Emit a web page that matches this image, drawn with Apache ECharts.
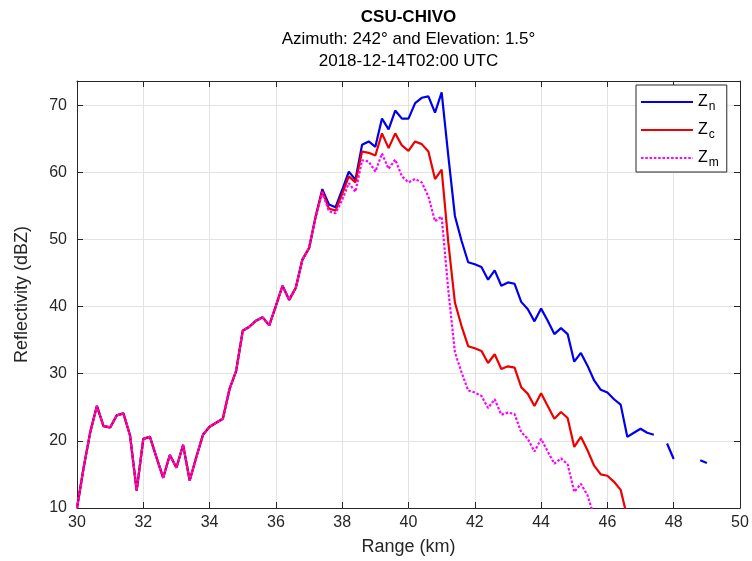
<!DOCTYPE html>
<html><head><meta charset="utf-8">
<script src="https://cdn.jsdelivr.net/npm/echarts@6/dist/echarts.min.js"></script>
<style>html,body{margin:0;padding:0;background:#fff}#c{width:752px;height:561px}</style>
</head><body><div id="c"></div>
<script>
// Range gates (km)
const rangeKm = [30.0,30.2,30.4,30.6,30.8,31.0,31.2,31.4,31.6,31.8,32.0,32.2,32.4,32.6,32.8,33.0,33.2,33.4,33.6,33.8,
  34.0,34.2,34.4,34.6,34.8,35.0,35.2,35.4,35.6,35.8,36.0,36.2,36.4,36.6,36.8,37.0,37.2,37.4,37.6,37.8,
  38.0,38.2,38.4,38.6,38.8,39.0,39.2,39.4,39.6,39.8,40.0,40.2,40.4,40.6,40.8,41.0,41.2,41.4,41.6,41.8,
  42.0,42.2,42.4,42.6,42.8,43.0,43.2,43.4,43.6,43.8,44.0,44.2,44.4,44.6,44.8,45.0,45.2,45.4,45.6,45.8,
  46.0,46.2,46.4,46.6,46.8,47.0,47.2,47.4,47.6,47.8,48.0,48.2,48.4,48.6,48.8,49.0];

// Z_n (dBZ)
const zn = [10.0,16.0,21.3,25.2,22.2,22.0,23.8,24.1,20.8,12.6,20.3,20.6,17.5,14.5,17.9,16.0,19.4,14.1,17.6,20.9,
  22.1,22.7,23.3,27.7,30.4,36.4,37.0,37.9,38.4,37.2,40.1,43.1,41.0,42.8,47.0,48.7,53.4,57.5,55.2,54.8,
  57.4,60.1,58.9,64.1,64.6,63.8,68.0,66.4,69.2,68.0,68.0,70.3,71.1,71.3,68.9,71.9,62.5,53.5,49.8,46.6,
  46.3,45.9,44.0,45.4,43.1,43.6,43.4,40.7,39.6,37.8,39.7,37.9,35.9,36.8,35.9,31.8,33.1,31.2,29.0,27.6,
  27.2,26.2,25.4,20.6,21.2,21.8,21.2,20.9,null,19.6,17.3,null,null,null,17.1,16.7];

// Z_c (dBZ)
const zc = [10.0,16.0,21.3,25.2,22.2,22.0,23.8,24.1,20.8,12.6,20.3,20.6,17.5,14.5,17.9,16.0,19.4,14.1,17.6,20.9,
  22.1,22.7,23.3,27.7,30.4,36.4,37.0,37.9,38.4,37.2,40.1,43.1,41.0,42.8,47.0,48.7,53.4,57.2,54.6,54.3,
  56.8,59.4,58.5,63.1,62.9,62.5,65.8,63.6,65.8,64.0,63.2,64.6,64.2,63.1,59.0,60.4,49.6,40.6,37.1,34.1,
  33.8,33.4,31.6,32.9,30.7,31.1,30.9,28.0,27.0,25.2,27.1,25.2,23.3,24.3,23.4,19.1,20.6,18.6,16.3,15.0,
  14.8,13.9,12.7,8.6,null,null,null,null,null,null,null,null,null,null,null,null];

// Z_m (dBZ)
const zm = [10.0,16.0,21.3,25.2,22.2,22.0,23.8,24.1,20.8,12.6,20.3,20.6,17.5,14.5,17.9,16.0,19.4,14.1,17.6,20.9,
  22.1,22.7,23.3,27.7,30.4,36.4,37.0,37.9,38.4,37.2,40.1,43.1,41.0,42.8,47.0,48.7,53.4,57.0,54.2,53.9,
  55.9,58.4,57.1,61.8,61.6,60.1,62.8,60.5,61.9,59.4,58.5,59.0,58.5,56.4,52.7,53.4,42.5,33.2,30.2,27.5,
  27.2,26.7,24.9,26.2,23.9,24.2,24.0,21.3,20.3,18.4,20.3,18.4,16.6,17.4,16.5,12.4,13.6,11.9,8.7,null,
  null,null,null,null,null,null,null,null,null,null,null,null,null,null,null,null];

const seriesNames = ['Zn', 'Zc', 'Zm'];
const titleLines = ['CSU-CHIVO', 'Azimuth: 242\u00b0 and Elevation: 1.5\u00b0', '2018-12-14T02:00 UTC'];

const pairs = ys => rangeKm.map((x, i) => [x, ys[i] == null ? '-' : ys[i]]);

const AX = '#262626';
const FONT = 'Liberation Sans';
const chart = echarts.init(document.getElementById('c'), null, {renderer: 'canvas'});

const baseX = {type: 'value', min: 30, max: 50, interval: 2};
const baseY = {type: 'value', min: 10, max: 73.6, interval: 10};

chart.setOption({
  animation: false,
  backgroundColor: '#fff',
  title: [
    {text: titleLines[0], left: 408.5, top: 9, textAlign: 'center', padding: 0,
     textStyle: {fontFamily: FONT, fontWeight: 'bold', fontSize: 17, color: '#000'}},
    {text: titleLines[1], left: 408.5, top: 31, textAlign: 'center', padding: 0,
     textStyle: {fontFamily: FONT, fontWeight: 'normal', fontSize: 17, color: '#000'}},
    {text: titleLines[2], left: 408.5, top: 53, textAlign: 'center', padding: 0,
     textStyle: {fontFamily: FONT, fontWeight: 'normal', fontSize: 17, color: '#000'}}
  ],
  grid: {left: 77, right: 12, top: 81, bottom: 51, containLabel: false},
  xAxis: [
    Object.assign({}, baseX, {
      position: 'bottom',
      name: 'Range (km)', nameLocation: 'middle', nameGap: 30,
      nameTextStyle: {fontFamily: FONT, fontSize: 18, color: AX},
      axisLine: {show: true, lineStyle: {color: AX, width: 1}},
      axisTick: {show: true, inside: true, length: 6, lineStyle: {color: AX}},
      axisLabel: {fontFamily: FONT, fontSize: 16, color: AX, margin: 7},
      splitLine: {show: true, lineStyle: {color: '#e3e3e3', width: 1}}
    }),
    Object.assign({}, baseX, {
      position: 'top',
      axisLine: {show: true, lineStyle: {color: AX, width: 1}},
      axisTick: {show: true, inside: true, length: 6, lineStyle: {color: AX}},
      axisLabel: {show: false},
      splitLine: {show: false}
    })
  ],
  yAxis: [
    Object.assign({}, baseY, {
      position: 'left',
      name: 'Reflectivity (dBZ)', nameLocation: 'middle', nameGap: 46,
      nameTextStyle: {fontFamily: FONT, fontSize: 18, color: AX},
      axisLine: {show: true, lineStyle: {color: AX, width: 1}},
      axisTick: {show: true, inside: true, length: 6, lineStyle: {color: AX}},
      axisLabel: {fontFamily: FONT, fontSize: 16, color: AX, margin: 10,
        formatter: v => (Math.abs(v % 10) < 1e-6 ? String(v) : '')},
      splitLine: {show: true, lineStyle: {color: '#e3e3e3', width: 1}}
    }),
    Object.assign({}, baseY, {
      position: 'right',
      axisLine: {show: true, lineStyle: {color: AX, width: 1}},
      axisTick: {show: true, inside: true, length: 6, lineStyle: {color: AX}},
      axisLabel: {show: false},
      splitLine: {show: false}
    })
  ],
  legend: {
    orient: 'vertical', left: 636, top: 85,
    padding: [9, 8, 3, 4],
    backgroundColor: '#fff', borderColor: AX, borderWidth: 1,
    itemWidth: 52, itemHeight: 14, itemGap: 9,
    data: seriesNames,
    itemStyle: {color: 'rgba(0,0,0,0)', borderColor: 'rgba(0,0,0,0)', borderWidth: 0, opacity: 0},
    formatter: n => 'Z{s|' + n.slice(1) + '}',
    textStyle: {fontFamily: FONT, fontSize: 16, color: '#000',
      rich: {s: {fontFamily: FONT, fontSize: 12, color: '#000', padding: [10, 0, 0, 1]}}}
  },
  series: [
    {name: seriesNames[0], type: 'line', data: pairs(zn), xAxisIndex: 0, yAxisIndex: 0,
     symbol: 'none', showSymbol: false, clip: true, connectNulls: false,
     lineStyle: {color: '#0000ee', width: 2.2}, itemStyle: {color: '#0000ee'}},
    {name: seriesNames[1], type: 'line', data: pairs(zc), xAxisIndex: 0, yAxisIndex: 0,
     symbol: 'none', showSymbol: false, clip: true, connectNulls: false,
     lineStyle: {color: '#ee0000', width: 2.2}, itemStyle: {color: '#ee0000'}},
    {name: seriesNames[2], type: 'line', data: pairs(zm), xAxisIndex: 0, yAxisIndex: 0,
     symbol: 'none', showSymbol: false, clip: true, connectNulls: false,
     lineStyle: {color: '#ff00ff', width: 2.2, type: [2.5, 1.8]}, itemStyle: {color: '#ff00ff'}}
  ]
});
</script>
</body></html>
